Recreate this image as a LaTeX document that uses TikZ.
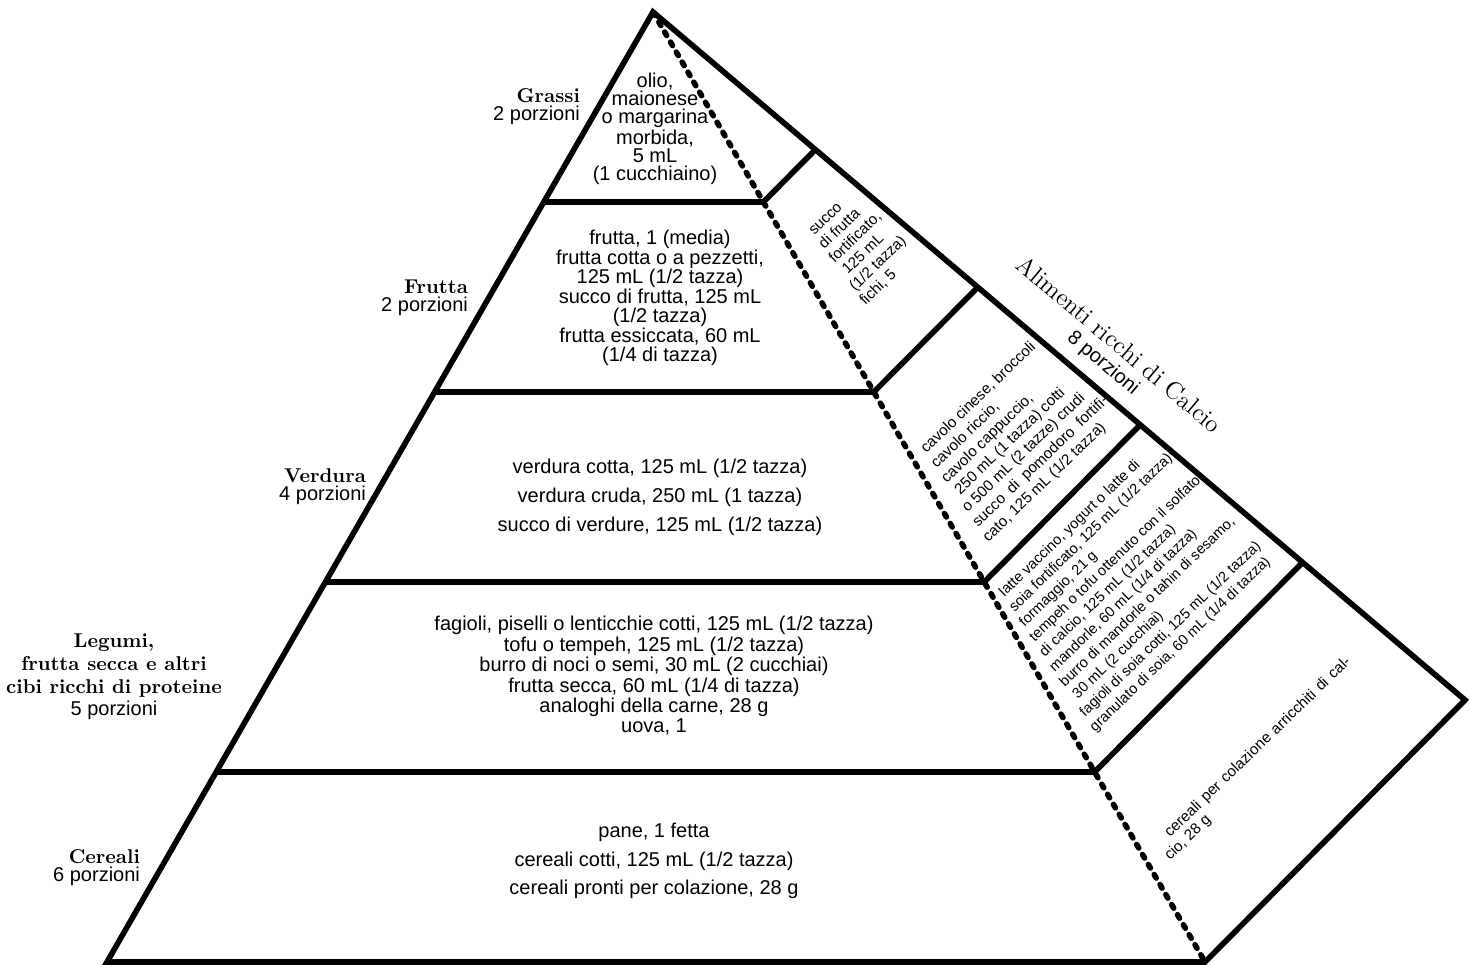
\documentclass[tikz,border=0pt]{standalone}
\usepackage{fontspec}
\setsansfont{Liberation Sans}
\usetikzlibrary{calc}

% Einrueckung der schraegen Zeilen
\newlength\driftunit
\setlength\driftunit{1.3pt}
\newcommand\drift[1]{\hspace*{#1\driftunit}}

\begin{document}
\begin{tikzpicture}[x=0.5pt,y=-0.5pt,
    edge/.style={line width=2.8pt},
    ridge/.style={line width=2.8pt, line cap=round, dash pattern=on 2pt off 3.8pt},
    food/.style={font=\sffamily\fontsize{10}{10.2}\selectfont, align=center},
    group/.style={font=\fontsize{10}{9}\selectfont\bfseries, align=right, anchor=east},
    face/.style={font=\sffamily\fontsize{7.6}{8.9}\selectfont, align=left, rotate=44},
    ]
    \useasboundingbox (0,0) rectangle (1470,964);

    % Ecken der Pyramide
    \coordinate (apex) at (653,12);
    \coordinate (bl)   at (107,962);
    \coordinate (br)   at (1205,962);
    \coordinate (back) at (1465,700);

    % Stufen
    \foreach \t [count=\i] in {0.2,0.4,0.6,0.8}{
        \coordinate (l\i) at ($(apex)!\t!(bl)$);
        \coordinate (m\i) at ($(apex)!\t!(br)$);
        \coordinate (r\i) at ($(apex)!\t!(back)$);
        \draw [edge] (l\i) -- (m\i) -- (r\i);
    }

    % Umriss
    \draw [edge]  (apex) -- (bl) -- (br) -- (back) -- cycle;
    \draw [ridge] (apex) -- (br);

    % Vorderseite
    \node [food, font=\sffamily\fontsize{10}{9}\selectfont] (fat) at (655,129)
        {olio,\\maionese\\o margarina\\morbida,\\5 mL\\(1 cucchiaino)};
    \node [food, font=\sffamily\fontsize{10}{9.75}\selectfont] (fruit) at (660,298)
        {frutta, 1 (media)\\frutta cotta o a pezzetti,\\125 mL (1/2 tazza)\\succo di frutta, 125 mL\\(1/2 tazza)\\frutta essiccata, 60 mL\\(1/4 di tazza)};
    \node [food, font=\sffamily\fontsize{10}{14.5}\selectfont] (veg) at (660,497)
        {verdura cotta, 125 mL (1/2 tazza)\\verdura cruda, 250 mL (1 tazza)\\succo di verdure, 125 mL (1/2 tazza)};
    \node [food] (prot) at (654,676)
        {fagioli, piselli o lenticchie cotti, 125 mL (1/2 tazza)\\tofu o tempeh, 125 mL (1/2 tazza)\\burro di noci o semi, 30 mL (2 cucchiai)\\frutta secca, 60 mL (1/4 di tazza)\\analoghi della carne, 28 g\\uova, 1};
    \node [food, font=\sffamily\fontsize{10}{14.3}\selectfont] (grain) at (654,861)
        {pane, 1 fetta\\cereali cotti, 125 mL (1/2 tazza)\\cereali pronti per colazione, 28 g};

    % Gruppen links
    \node [group] (gfat)   at (587,107) {Grassi\\{\normalfont\sffamily 2 porzioni}};
    \node [group] (gfruit) at (475,298) {Frutta\\{\normalfont\sffamily 2 porzioni}};
    \node [group] (gveg)   at (373,487) {Verdura\\{\normalfont\sffamily 4 porzioni}};
    \node [group, align=center, anchor=center, font=\fontsize{10}{11.3}\selectfont\bfseries] (gprot) at (114,677)
        {Legumi,\\frutta secca e altri\\cibi ricchi di proteine\\{\normalfont\sffamily 5 porzioni}};
    \node [group] (ggrain) at (147,868) {Cereali\\{\normalfont\sffamily 6 porzioni}};

    % Calcio-Seite
    \node [rotate=-40, align=center, font=\fontsize{12.4}{11}\selectfont] (calc) at (1111,354)
        {Alimenti ricchi di Calcio\\{\sffamily\fontsize{10}{11}\selectfont 8 porzioni}};
    \node [face, font=\sffamily\fontsize{7.6}{8.6}\selectfont\setlength\driftunit{1.2pt}] (juice) at (860,247)
        {\drift5succo\\\drift4di frutta\\\drift3fortificato,\\\drift2 125 mL\\\drift1(1/2 tazza)\\fichi, 5};
    \node [face, font=\sffamily\fontsize{7.6}{8.9}\selectfont\setlength\driftunit{1.4pt}] (greens) at (1015,437)
        {\drift6cavolo cinese, broccoli\\\drift5cavolo riccio,\\\drift4cavolo cappuccio,\\\drift3 250 mL (1 tazza) cotti\\\drift2o 500 mL (2 tazze) crudi\\\drift1\makebox[91pt][s]{succo di pomodoro fortifi-}\\cato, 125 mL (1/2 tazza)};
    \node [face, font=\sffamily\fontsize{7.3}{8.9}\selectfont\setlength\driftunit{1.6pt}] (dairy) at (1127,585)
        {\drift9latte vaccino, yogurt o latte di\\\drift8soia fortificato, 125 mL (1/2 tazza)\\\drift7formaggio, 21 g\\\drift6tempeh o tofu ottenuto con il solfato\\\drift5di calcio, 125 mL (1/2 tazza)\\\drift4mandorle, 60 mL (1/4 di tazza)\\\drift3burro di mandorle o tahin di sesamo,\\\drift2 30 mL (2 cucchiai)\\\drift1fagioli di soia cotti, 125 mL (1/2 tazza)\\granulato di soia, 60 mL (1/4 di tazza)};
    \node [face, font=\sffamily\fontsize{7.6}{8.3}\selectfont\setlength\driftunit{8pt}] (cereal) at (1258,759)
        {\drift1\makebox[126pt][s]{cereali per colazione arricchiti di cal-}\\cio, 28 g};
\end{tikzpicture}
\end{document}
